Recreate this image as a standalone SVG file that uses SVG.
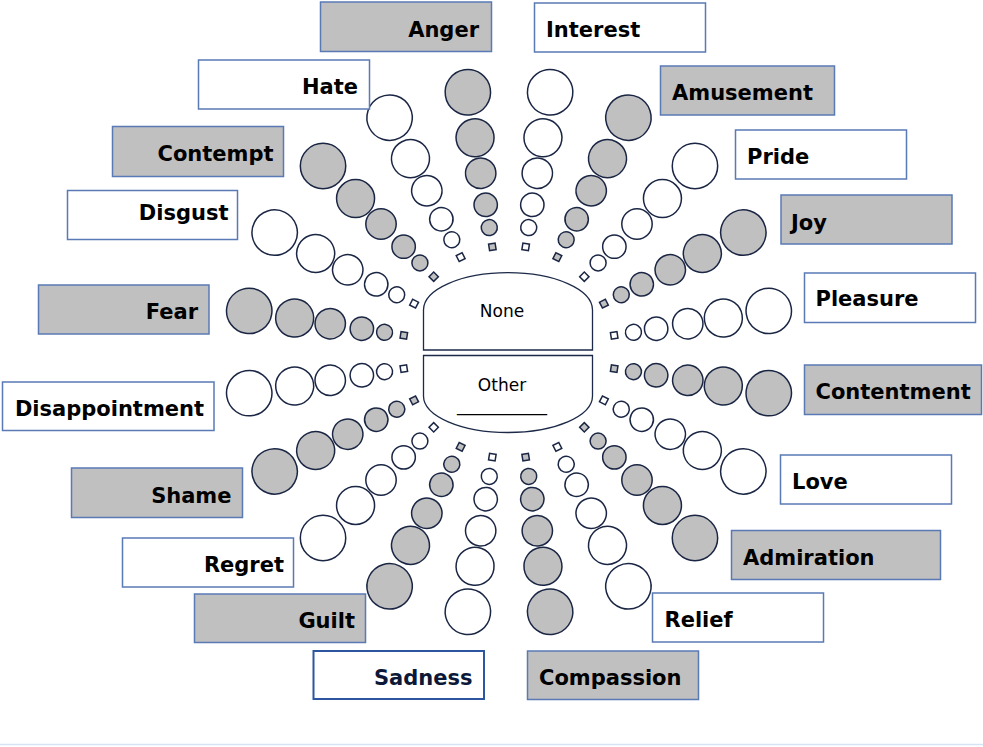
<svg xmlns="http://www.w3.org/2000/svg" xmlns:xlink="http://www.w3.org/1999/xlink" width="983" height="747" viewBox="0 0 983 747">
<style>
.box{stroke:#5a7ab5;stroke-width:1.5}
.g{fill:#c0c0c0}
.w{fill:#ffffff}
.lbl{font-family:"DejaVu Sans","Verdana",sans-serif;font-weight:bold;font-size:21px;fill:#000}
.ctr{font-family:"DejaVu Sans","Verdana",sans-serif;font-size:17px;fill:#000}
.hub{fill:#fff;stroke:#1c2a48;stroke-width:1.3}
</style>
<defs>
<g id="spoke" stroke="#1a2644" stroke-width="1.5">
<rect x="-3.3" y="-109.8" width="6.6" height="6.6"/>
<circle cx="0" cy="-126" r="8"/>
<circle cx="0" cy="-149" r="11.7"/>
<circle cx="0" cy="-181" r="15.2"/>
<circle cx="0" cy="-217" r="19"/>
<circle cx="0" cy="-263" r="22.7"/>
</g>
</defs>
<rect width="983" height="747" fill="#fff"/>
<line x1="0" y1="744.5" x2="983" y2="744.5" stroke="#d5e3f5" stroke-width="1.5"/>
<g id="hub">
<path class="hub" d="M423.5,350 V310 A84.5,37.3 0 0 1 592.5,310 V350 Z"/>
<path class="hub" d="M423.5,355.5 V396 A84.5,36.5 0 0 0 592.5,396 V355.5 Z"/>
<text class="ctr" x="502" y="316.5" text-anchor="middle">None</text>
<text class="ctr" x="502" y="391" text-anchor="middle">Other</text>
<text class="ctr" x="457" y="411" textLength="90" lengthAdjust="spacingAndGlyphs">__________</text>
</g>
<g id="connectors"/>
<g id="anger"><use xlink:href="#spoke" href="#spoke" transform="translate(509,352) rotate(351)" fill="#c0c0c0"/><rect class="box g" x="320.5" y="2" width="171" height="49.5"/><text class="lbl" x="479" y="36.5" text-anchor="end">Anger</text></g>
<g id="interest"><use xlink:href="#spoke" href="#spoke" transform="translate(509,352) rotate(9)" fill="#fff"/><rect class="box w" x="534.5" y="3" width="171" height="49"/><text class="lbl" x="546" y="36.5">Interest</text></g>
<g id="amusement"><use xlink:href="#spoke" href="#spoke" transform="translate(509,352) rotate(27)" fill="#c0c0c0"/><rect class="box g" x="660.5" y="66" width="174" height="49"/><text class="lbl" x="672" y="99.5">Amusement</text></g>
<g id="pride"><use xlink:href="#spoke" href="#spoke" transform="translate(509,352) rotate(45)" fill="#fff"/><rect class="box w" x="735.5" y="130" width="171" height="49"/><text class="lbl" x="747" y="164">Pride</text></g>
<g id="joy"><use xlink:href="#spoke" href="#spoke" transform="translate(509,352) rotate(63)" fill="#c0c0c0"/><rect class="box g" x="781" y="195" width="171" height="49"/><text class="lbl" x="791" y="229.5">Joy</text></g>
<g id="pleasure"><use xlink:href="#spoke" href="#spoke" transform="translate(509,352) rotate(81)" fill="#fff"/><rect class="box w" x="804.5" y="273" width="171" height="49.5"/><text class="lbl" x="815.5" y="306">Pleasure</text></g>
<g id="contentment"><use xlink:href="#spoke" href="#spoke" transform="translate(509,352) rotate(99)" fill="#c0c0c0"/><rect class="box g" x="804.5" y="365" width="177" height="49.5"/><text class="lbl" x="815.5" y="398.5">Contentment</text></g>
<g id="love"><use xlink:href="#spoke" href="#spoke" transform="translate(509,352) rotate(117)" fill="#fff"/><rect class="box w" x="780.5" y="455" width="171" height="49"/><text class="lbl" x="792" y="489">Love</text></g>
<g id="admiration"><use xlink:href="#spoke" href="#spoke" transform="translate(509,352) rotate(135)" fill="#c0c0c0"/><rect class="box g" x="731.5" y="530.5" width="209" height="49"/><text class="lbl" x="743" y="564.5">Admiration</text></g>
<g id="relief"><use xlink:href="#spoke" href="#spoke" transform="translate(509,352) rotate(153)" fill="#fff"/><rect class="box w" x="652.5" y="593" width="171" height="49"/><text class="lbl" x="664.5" y="627">Relief</text></g>
<g id="compassion"><use xlink:href="#spoke" href="#spoke" transform="translate(509,352) rotate(171)" fill="#c0c0c0"/><rect class="box g" x="527.5" y="651" width="171" height="48.5"/><text class="lbl" x="539" y="684.5">Compassion</text></g>
<g id="sadness"><use xlink:href="#spoke" href="#spoke" transform="translate(509,352) rotate(189)" fill="#fff"/><rect class="box w" x="313.5" y="651" width="170.5" height="48" style="stroke:#2c56a0;stroke-width:2"/><text class="lbl" x="472.5" y="684.5" text-anchor="end" style="fill:#0c1838">Sadness</text></g>
<g id="guilt"><use xlink:href="#spoke" href="#spoke" transform="translate(509,352) rotate(207)" fill="#c0c0c0"/><rect class="box g" x="194.5" y="594" width="171" height="48.5"/><text class="lbl" x="355" y="627.5" text-anchor="end">Guilt</text></g>
<g id="regret"><use xlink:href="#spoke" href="#spoke" transform="translate(509,352) rotate(225)" fill="#fff"/><rect class="box w" x="122.5" y="538" width="171" height="49"/><text class="lbl" x="284" y="572" text-anchor="end">Regret</text></g>
<g id="shame"><use xlink:href="#spoke" href="#spoke" transform="translate(509,352) rotate(243)" fill="#c0c0c0"/><rect class="box g" x="71.5" y="468" width="171" height="49.5"/><text class="lbl" x="231.5" y="502.5" text-anchor="end">Shame</text></g>
<g id="disappointment"><use xlink:href="#spoke" href="#spoke" transform="translate(509,352) rotate(261)" fill="#fff"/><rect class="box w" x="2.5" y="382" width="211.5" height="48.5"/><text class="lbl" x="204" y="416" text-anchor="end">Disappointment</text></g>
<g id="fear"><use xlink:href="#spoke" href="#spoke" transform="translate(509,352) rotate(279)" fill="#c0c0c0"/><rect class="box g" x="38.5" y="285" width="170.5" height="49"/><text class="lbl" x="198" y="319" text-anchor="end">Fear</text></g>
<g id="disgust"><use xlink:href="#spoke" href="#spoke" transform="translate(509,352) rotate(297)" fill="#fff"/><rect class="box w" x="67.5" y="190.5" width="170" height="49"/><text class="lbl" x="228.5" y="219.5" text-anchor="end">Disgust</text></g>
<g id="contempt"><use xlink:href="#spoke" href="#spoke" transform="translate(509,352) rotate(315)" fill="#c0c0c0"/><rect class="box g" x="112.5" y="126.5" width="171" height="50"/><text class="lbl" x="273.5" y="161" text-anchor="end">Contempt</text></g>
<g id="hate"><use xlink:href="#spoke" href="#spoke" transform="translate(509,352) rotate(333)" fill="#fff"/><rect class="box w" x="198.5" y="60" width="171" height="49"/><text class="lbl" x="358" y="93.5" text-anchor="end">Hate</text></g>
</svg>
